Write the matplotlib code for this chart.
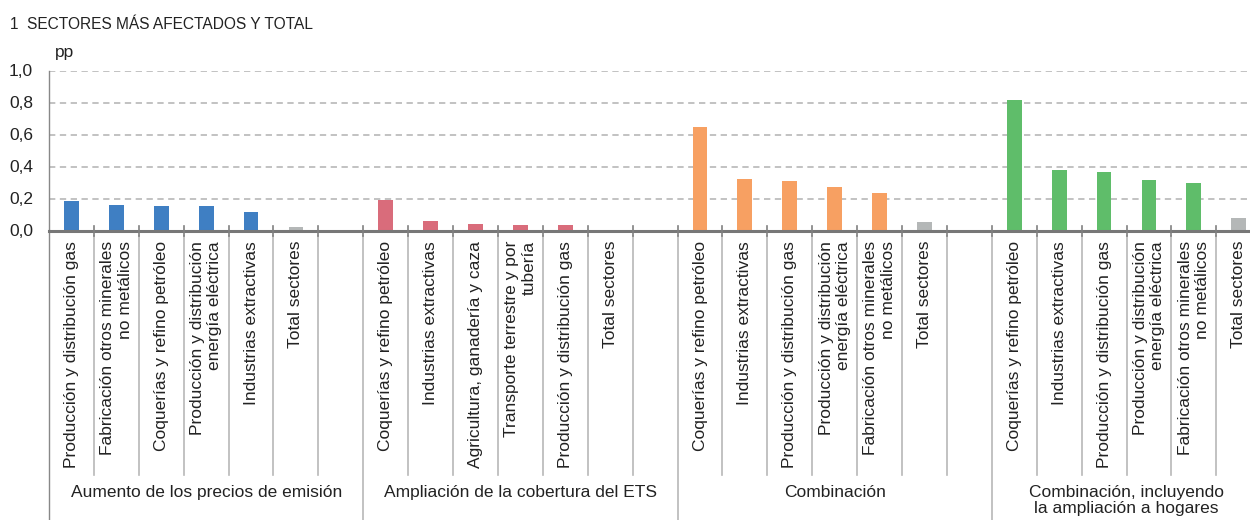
import matplotlib.pyplot as plt
from matplotlib.transforms import blended_transform_factory

plt.rcParams['font.family'] = ['Liberation Sans', 'DejaVu Sans']

groups = ['Aumento de los precios de emisión',
          'Ampliación de la cobertura del ETS',
          'Combinación',
          'Combinación, incluyendo\nla ampliación a hogares']

labels_g1 = ['Producción y distribución gas', 'Fabricación otros minerales\nno metálicos',
             'Coquerías y refino petróleo', 'Producción y distribución\nenergía eléctrica',
             'Industrias extractivas', 'Total sectores']
labels_g2 = ['Coquerías y refino petróleo', 'Industrias extractivas',
             'Agricultura, ganadería y caza', 'Transporte terrestre y por\ntubería',
             'Producción y distribución gas', 'Total sectores']
labels_g3 = ['Coquerías y refino petróleo', 'Industrias extractivas',
             'Producción y distribución gas', 'Producción y distribución\nenergía eléctrica',
             'Fabricación otros minerales\nno metálicos', 'Total sectores']
labels_g4 = labels_g3

values_g1 = [0.184, 0.160, 0.153, 0.153, 0.115, 0.022]
values_g2 = [0.190, 0.060, 0.040, 0.035, 0.035, 0.0]
values_g3 = [0.649, 0.323, 0.310, 0.272, 0.235, 0.054]
values_g4 = [0.817, 0.378, 0.365, 0.315, 0.297, 0.080]

colors = ['#3f7fc3', '#d96c7b', '#f7a062', '#5fbd6a']
total_color = '#b4b7b7'

all_labels = [labels_g1, labels_g2, labels_g3, labels_g4]
all_values = [values_g1, values_g2, values_g3, values_g4]

W, H = 1250, 520
fs = 12.5
txt = '#222222'
fig = plt.figure(figsize=(12.5, 5.2), dpi=100)
ax = fig.add_axes([49 / W, 1 - 230.5 / H, (W - 49) / W, 160 / H])

x_pos = 0
group_starts = []
slots = []
for gi, (labs, vals) in enumerate(zip(all_labels, all_values)):
    group_starts.append(x_pos)
    for lab, v in zip(labs, vals):
        c = total_color if lab == 'Total sectores' else colors[gi]
        ax.bar(x_pos, v, width=0.33, color=c, zorder=3)
        slots.append((x_pos, lab))
        x_pos += 1
    if gi < len(all_labels) - 1:
        x_pos += 1  # hueco entre grupos
group_starts.append(x_pos)

ax.set_xlim(-0.5, 26.25)
ax.set_ylim(0, 1.0)
ax.set_yticks([0, 0.2, 0.4, 0.6, 0.8, 1.0])
ax.set_yticklabels(['0,0', '0,2', '0,4', '0,6', '0,8', '1,0'], fontsize=fs, color=txt)
ax.tick_params(axis='y', length=0, pad=11.5)
ax.set_xticks([])
for y in [0.2, 0.4, 0.6, 0.8, 1.0]:
    ax.axhline(y, color='#bdbdbd', lw=1.3, ls=(0, (3.5, 2.5)), zorder=1)
for s in ['top', 'right']:
    ax.spines[s].set_visible(False)
ax.spines['bottom'].set_color('#777777')
ax.spines['bottom'].set_linewidth(2.2)
ax.spines['bottom'].set_zorder(4)
ax.spines['left'].set_color('#888888')
ax.spines['left'].set_linewidth(1)

tr = blended_transform_factory(ax.transData, fig.transFigure)

# separadores de categorías y de grupos
for b in range(1, 27):
    xb = b - 0.5
    is_group = b in group_starts[1:4]
    ax.plot([xb, xb], [1 - 226 / H, 1 - 236 / H], color='#808080', lw=1.2,
            transform=tr, clip_on=False, zorder=5)
    bottom = 0 if is_group else 1 - 475 / H
    ax.plot([xb, xb], [1 - 236 / H, bottom], color='#b8b8b8', lw=1.2,
            transform=tr, clip_on=False)
ax.plot([-0.5, -0.5], [1 - 230 / H, 0], color='#888888', lw=1.0,
        transform=tr, clip_on=False)

for xp, lab in slots:
    ax.text(xp, 1 - 241 / H, lab, rotation=90, ha='center', va='top',
            multialignment='right', fontsize=fs, color=txt,
            transform=tr, linespacing=1.2)

for gi, g in enumerate(groups):
    start = group_starts[gi]
    n = len(all_labels[gi]) + (1 if gi < 3 else 0)
    center = start - 0.5 + n / 2
    ax.text(center, 1 - 485 / H, g, ha='center', va='top', fontsize=fs,
            color=txt, transform=tr, linespacing=1.1)

fig.text(10 / W, 1 - 24 / H, '1  SECTORES MÁS AFECTADOS Y TOTAL', fontsize=11.2,
         color=txt, va='center', ha='left')
fig.text(55 / W, 1 - 52 / H, 'pp', fontsize=fs, color=txt, va='center', ha='left')

fig.savefig('out.png', dpi=100)
